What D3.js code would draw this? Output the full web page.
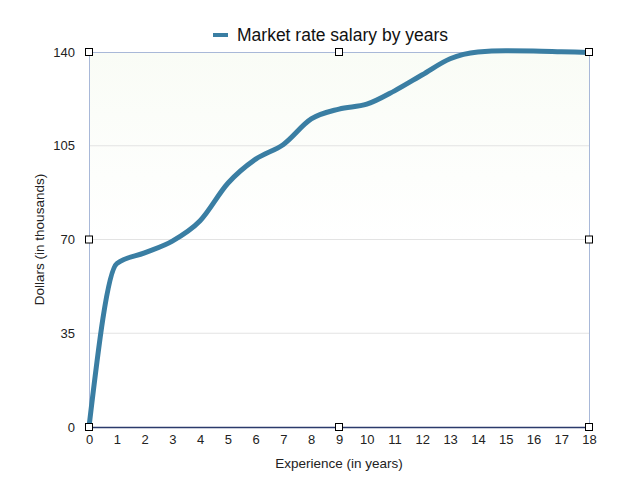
<!DOCTYPE html>
<html><head><meta charset="utf-8">
<script src="https://cdn.jsdelivr.net/npm/d3@7"></script>
<style>body{margin:0;background:#fff;} svg{display:block;font-family:"Liberation Sans",Arial,Helvetica,sans-serif;}</style>
</head><body><svg id="c" width="636" height="488"></svg>
<script>
const years = [0,1,2,3,4,5,6,7,8,9,10,11,12,13,14,15,16,17,18];
const salary = [0,61,65,69.4,77,91,100,105.5,115,118.7,120.5,125.5,131.5,137.5,140,140.5,140.4,140.1,139.8];
const yTicks = [0,35,70,105,140];
const xTicks = years;
const seriesName = "Market rate salary by years";
const xTitle = "Experience (in years)";
const yTitle = "Dollars (in thousands)";

const svg = d3.select("#c");
const L=89,R=589,T=52,B=427;
const x = d3.scaleLinear().domain([0,18]).range([L,R]);
const y = d3.scaleLinear().domain([0,140]).range([B,T]);

const defs = svg.append("defs");
const g = defs.append("linearGradient").attr("id","bg").attr("x1",0).attr("y1",0).attr("x2",0).attr("y2",1);
g.append("stop").attr("offset","0%").attr("stop-color","#f9fcf6");
g.append("stop").attr("offset","50%").attr("stop-color","#ffffff");
svg.append("rect").attr("x",L).attr("y",T).attr("width",R-L).attr("height",B-T).attr("fill","url(#bg)");

// gridlines
svg.append("g").selectAll("line").data(yTicks.filter(d=>d>0&&d<140)).join("line")
  .attr("x1",L).attr("x2",R).attr("y1",d=>y(d)).attr("y2",d=>y(d))
  .attr("stroke","#e3e3e3").attr("stroke-width",1);

// frame
svg.append("line").attr("x1",L+0.5).attr("x2",L+0.5).attr("y1",T).attr("y2",B).attr("stroke","#a8b8d8");
svg.append("line").attr("x1",R+0.5).attr("x2",R+0.5).attr("y1",T).attr("y2",B).attr("stroke","#a8b8d8");
svg.append("line").attr("x1",L).attr("x2",R).attr("y1",T+0.5).attr("y2",T+0.5).attr("stroke","#a8b8d8");

// axes
const yAxis = svg.append("g").attr("transform",`translate(${L},0)`)
  .call(d3.axisLeft(y).tickValues(yTicks).tickSize(0).tickPadding(14));
yAxis.select(".domain").remove();
yAxis.selectAll("text").attr("font-size",13).attr("fill","#222").attr("font-family","Liberation Sans, Arial, sans-serif");

const xAxis = svg.append("g").attr("transform",`translate(0,${B})`)
  .call(d3.axisBottom(x).tickValues(xTicks).tickSize(0).tickPadding(8));
xAxis.select(".domain").remove();
xAxis.selectAll("text").attr("font-size",13).attr("fill","#222").attr("font-family","Liberation Sans, Arial, sans-serif");
svg.append("line").attr("x1",L).attr("x2",R).attr("y1",B+0.5).attr("y2",B+0.5).attr("stroke","#2b3a6b").attr("stroke-width",1.5);

// line
const line = d3.line().x((d,i)=>x(years[i])).y(d=>y(d)).curve(d3.curveMonotoneX);
svg.append("path").datum(salary).attr("d",line).attr("fill","none")
  .attr("stroke","#3a7ea3").attr("stroke-width",5).attr("stroke-linecap","round").attr("stroke-linejoin","round");

// handles
const handles = [[0,0],[9,0],[18,0],[0,70],[18,70],[0,140],[9,140],[18,140]];
svg.append("g").selectAll("rect").data(handles).join("rect")
  .attr("x",d=>x(d[0])-3.5).attr("y",d=>y(d[1])-3.5).attr("width",7).attr("height",7)
  .attr("fill","#fff").attr("stroke","#000").attr("stroke-width",1);

// titles
svg.append("text").attr("x",(L+R)/2).attr("y",468).attr("text-anchor","middle")
  .attr("font-size",13.5).attr("fill","#222").text(xTitle);
svg.append("text").attr("transform",`translate(44,${(T+B)/2}) rotate(-90)`).attr("text-anchor","middle")
  .attr("font-size",13.5).attr("fill","#222").text(yTitle);

// legend
svg.append("line").attr("x1",213).attr("x2",228).attr("y1",35).attr("y2",35)
  .attr("stroke","#3a7ea3").attr("stroke-width",4);
svg.append("text").attr("x",237).attr("y",41).attr("font-size",17.5).attr("fill","#111").text(seriesName);
</script></body></html>
